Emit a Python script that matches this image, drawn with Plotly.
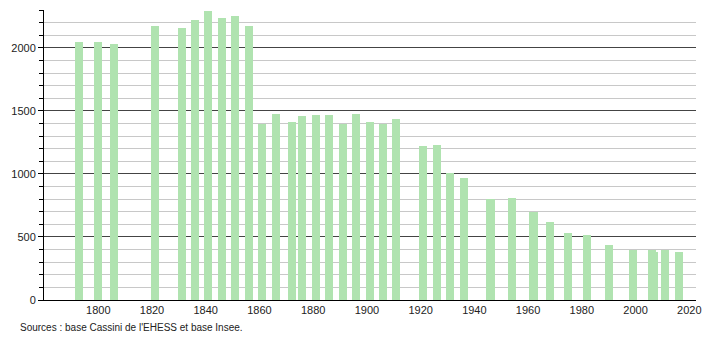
import plotly.graph_objects as go

years = [1793, 1800, 1806, 1821, 1831, 1836, 1841, 1846, 1851, 1856,
         1861, 1866, 1872, 1876, 1881, 1886, 1891, 1896, 1901, 1906,
         1911, 1921, 1926, 1931, 1936, 1946, 1954, 1962, 1968, 1975,
         1982, 1990, 1999, 2006, 2007, 2011, 2016]
population = [2050, 2050, 2027, 2170, 2154, 2218, 2289, 2234, 2252, 2170,
              1397, 1478, 1415, 1463, 1471, 1471, 1397, 1478, 1415, 1397,
              1439, 1224, 1232, 1010, 970, 803, 811, 700, 620, 533,
              517, 437, 397, 397, 383, 397, 381]
x_ticks = [1800, 1820, 1840, 1860, 1880, 1900, 1920, 1940, 1960, 1980, 2000, 2020]
y_ticks = [0, 500, 1000, 1500, 2000]
source_text = "Sources : base Cassini de l'EHESS et base Insee."

fig = go.Figure(go.Bar(
    x=years, y=population, width=3,
    marker=dict(color="#b0e3b0", line=dict(width=0)),
    hoverinfo="x+y",
))

fig.update_layout(
    width=710, height=340,
    margin=dict(l=44, r=9, t=10, b=40),
    paper_bgcolor="white", plot_bgcolor="white",
    font=dict(family="Liberation Sans, Arial, sans-serif", size=11, color="#222"),
    showlegend=False,
    bargap=0,
)
fig.update_xaxes(
    range=[1779.8, 2022.5], tickvals=x_ticks, ticks="",
    showgrid=False, showline=True, linecolor="black", linewidth=1,
    zeroline=False, tickfont=dict(size=11),
)
fig.update_yaxes(
    range=[0, 2300], tickvals=y_ticks, ticks="outside", ticklen=5,
    tickcolor="black", showline=True, linecolor="black", linewidth=1,
    showgrid=True, gridcolor="#444", gridwidth=1, zeroline=False,
    minor=dict(dtick=100, ticks="outside", ticklen=4, tickcolor="black",
               showgrid=True, gridcolor="#c8c8c8", gridwidth=1),
    tickfont=dict(size=11),
)
fig.add_annotation(
    text=source_text, xref="paper", yref="paper",
    x=-26/657, y=-20/290, xanchor="left", yanchor="top",
    showarrow=False, font=dict(size=10, color="#222"),
)
fig.write_html("out.html")
